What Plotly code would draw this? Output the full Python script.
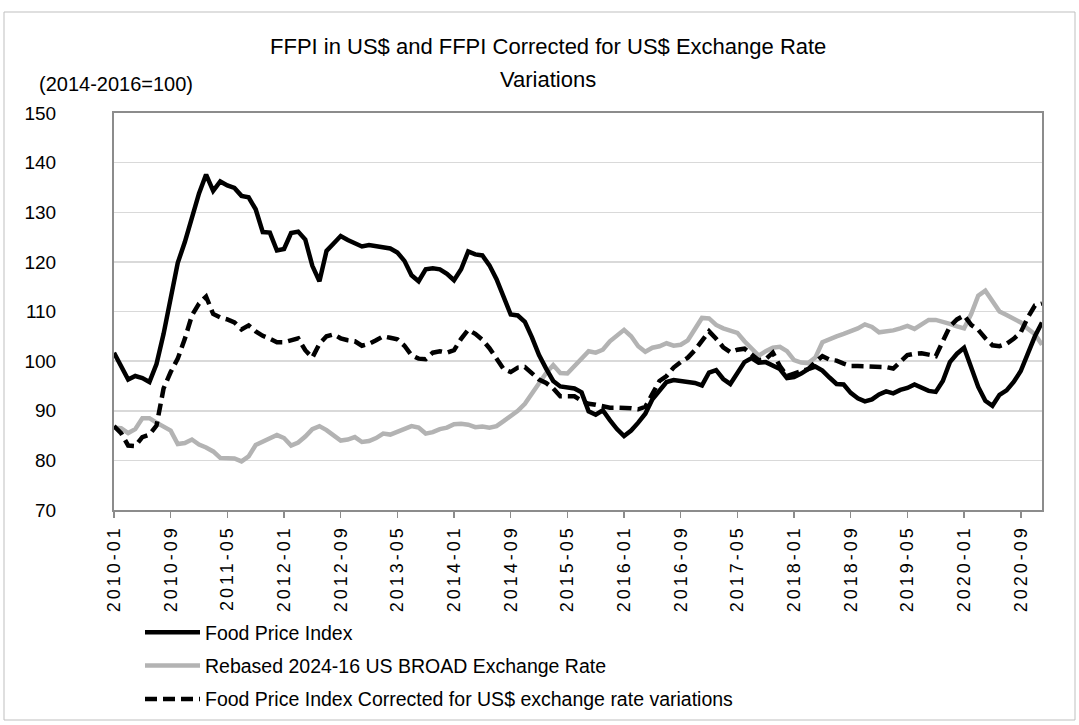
import plotly.graph_objects as go

# ---- data (monthly, 2010-01 .. 2020-12) ----
months = [f"{y}-{m:02d}" for y in range(2010, 2021) for m in range(1, 13)]

food_price_index = [
    101.7, 99.0, 96.3, 97.0, 96.6, 95.8, 99.4, 105.5, 112.5, 119.8, 124.0, 129.3,
    133.8, 137.6, 134.3, 136.2, 135.4, 134.9, 133.3, 133.0, 130.6, 126.0, 125.9, 122.3,
    122.6, 125.8, 126.1, 124.5, 119.2, 116.1, 122.2, 123.7, 125.2, 124.4, 123.8, 123.1,
    123.4, 123.2, 123.0, 122.7, 121.9, 120.2, 117.3, 116.1, 118.5, 118.7, 118.5, 117.6,
    116.3, 118.5, 122.1, 121.5, 121.3, 119.3, 116.5, 113.0, 109.4, 109.2, 107.9, 104.8,
    101.2, 98.5, 96.0, 94.9, 94.7, 94.5, 93.7, 89.9, 89.2, 90.1, 88.1, 86.3,
    84.9, 86.0, 87.6, 89.4, 92.3, 93.9, 95.8, 96.2, 96.0, 95.9, 95.6, 95.1,
    97.7, 98.2, 96.4, 95.4, 97.6, 99.8, 100.6, 99.7, 99.8, 99.1, 98.4, 96.6,
    96.8, 97.5, 98.4, 98.9, 98.1, 96.7, 95.4, 95.3, 93.6, 92.5, 91.9, 92.3,
    93.3, 93.9, 93.5, 94.2, 94.6, 95.3, 94.7, 94.0, 93.8, 96.0, 99.8, 101.5,
    102.7, 99.0, 94.8, 92.0, 91.0, 93.2, 94.1, 95.8, 98.0, 101.5, 105.0, 107.8,
]

exchange_rate_rebased = [
    86.6, 86.5, 85.5, 86.3, 88.5, 88.5, 87.6, 86.9, 86.0, 83.3, 83.5, 84.2,
    83.2, 82.6, 81.8, 80.5, 80.5, 80.4, 79.8, 80.8, 83.1, 83.8, 84.5, 85.1,
    84.5, 83.0, 83.6, 84.8, 86.3, 86.9, 86.1, 85.0, 84.0, 84.2, 84.7, 83.7,
    83.9, 84.5, 85.4, 85.2, 85.8, 86.5, 86.9, 86.6, 85.4, 85.7, 86.3, 86.6,
    87.3, 87.4, 87.2, 86.7, 86.8, 86.6, 86.9, 87.9, 88.9, 90.0, 91.4, 93.4,
    95.6, 97.6, 99.2, 97.6, 97.5, 99.0, 100.8, 102.0, 101.7, 102.3, 104.0, 105.3,
    106.3, 105.0, 103.0, 101.9, 102.7, 103.0, 103.6, 103.1, 103.3, 104.2, 106.3, 108.7,
    108.6, 107.3, 106.6, 106.1, 105.7, 104.0, 102.5, 101.1, 102.0, 102.7, 102.9, 102.0,
    100.2, 99.7, 99.6, 100.7, 103.8, 104.5, 105.0, 105.5, 106.0, 106.6, 107.4, 106.9,
    105.8, 105.9, 106.2, 106.6, 107.1, 106.5, 107.4, 108.3, 108.3, 108.0, 107.5, 107.0,
    106.6, 109.5, 113.2, 114.2, 112.0, 110.0, 109.3, 108.6, 107.8, 106.5, 105.4, 103.3,
]

fpi_corrected = [
    86.9, 85.5, 83.0, 82.9, 84.7, 85.2, 87.0, 94.5, 97.8, 100.5, 104.5, 109.2,
    111.6, 113.0, 109.5, 108.8, 108.4, 107.8, 106.4, 107.2, 106.0, 105.1, 104.5, 103.8,
    103.8, 104.2, 104.6, 102.2, 100.7, 103.5, 105.0, 105.4, 104.6, 104.2, 104.0, 103.1,
    103.5, 104.2, 105.0, 104.7, 104.4, 103.1, 101.2, 100.5, 100.4, 101.7, 102.0, 101.7,
    102.2, 104.5, 106.3, 105.5, 104.3, 102.6, 100.5, 98.4, 97.8, 98.7, 98.8, 97.5,
    96.3, 95.6, 94.5, 92.9, 92.9, 92.9, 92.0, 91.4, 91.2, 90.9, 90.6, 90.6,
    90.6, 90.5, 90.3, 90.8, 93.4, 96.0, 97.0, 98.7, 99.8, 100.7, 102.2, 104.0,
    106.0, 104.5, 102.8, 101.8, 102.3, 102.5, 101.3, 100.2, 100.4, 101.7, 99.0, 97.0,
    97.5, 98.0, 98.4, 99.8, 101.0, 100.3, 100.1, 99.5, 99.0, 99.0, 99.0, 98.9,
    98.9, 98.8, 98.5, 100.0, 101.2, 101.5, 101.6, 101.3, 101.0, 104.0, 107.0, 108.4,
    109.2, 107.3, 106.3, 104.6, 103.2, 103.0, 103.5, 104.5, 105.8, 108.8, 111.2, 111.6,
]

tick_labels = ["2010-01", "2010-09", "2011-05", "2012-01", "2012-09", "2013-05",
               "2014-01", "2014-09", "2015-05", "2016-01", "2016-09", "2017-05",
               "2018-01", "2018-09", "2019-05", "2020-01", "2020-09"]

series_names = ["Food Price Index",
                "Rebased 2024-16 US BROAD Exchange Rate",
                "Food Price Index Corrected for US$ exchange rate variations"]

title_lines = ["FFPI in US$ and FFPI Corrected for US$ Exchange Rate", "Variations"]
unit_label = "(2014-2016=100)"

FONT = "Liberation Sans, Arial, sans-serif"

fig = go.Figure()
fig.add_trace(go.Scatter(x=months, y=exchange_rate_rebased, mode="lines",
                         name=series_names[1], legendgroup="b", legendrank=2,
                         line=dict(color="#b3b3b3", width=4.5)))
fig.add_trace(go.Scatter(x=months, y=food_price_index, mode="lines",
                         name=series_names[0], legendgroup="a", legendrank=1,
                         line=dict(color="#000000", width=4.5)))
fig.add_trace(go.Scatter(x=months, y=fpi_corrected, mode="lines",
                         name=series_names[2], legendgroup="c", legendrank=3,
                         line=dict(color="#000000", width=4.5, dash="12px,6px")))

# plot area geometry in pixels
W, H = 1079, 725
L, R, T, B = 114, 1042, 113, 510
pw, ph = R - L, B - T

def px(x):
    return (x - L) / pw

def py(y):
    return (B - y) / ph

fig.update_layout(
    width=W, height=H,
    margin=dict(l=L, r=W - R, t=T, b=H - B, autoexpand=False),
    paper_bgcolor="white", plot_bgcolor="white",
    font=dict(family=FONT, color="#000000"),
    showlegend=True,
    legend=dict(x=px(140), y=py(613), xanchor="left", yanchor="top",
                orientation="v", traceorder="grouped", tracegroupgap=5,
                itemwidth=55, font=dict(size=19.5, family=FONT),
                bgcolor="rgba(0,0,0,0)"),
    xaxis=dict(type="category", range=[0, len(months) - 1],
               tickmode="array", tickvals=tick_labels, ticktext=tick_labels,
               tickangle=-90, tickfont=dict(size=18, family=FONT),
               ticks="outside", ticklen=6, tickcolor="#8c8c8c", tickwidth=1.5,
               showgrid=False, showline=True, linecolor="#8c8c8c", linewidth=2,
               mirror=True, zeroline=False, automargin=False),
    yaxis=dict(range=[70, 150], dtick=10, tick0=70,
               tickfont=dict(size=19, family=FONT),
               showgrid=True, gridcolor="#d9d9d9", gridwidth=1.5,
               showline=True, linecolor="#8c8c8c", linewidth=2, mirror=True,
               zeroline=False, ticks="", ticklabelstandoff=52, automargin=False),
    annotations=[
        dict(text=title_lines[0], x=px(548), y=py(46), xref="paper", yref="paper",
             xanchor="center", yanchor="middle", showarrow=False,
             font=dict(size=22, family=FONT)),
        dict(text=title_lines[1], x=px(548), y=py(79), xref="paper", yref="paper",
             xanchor="center", yanchor="middle", showarrow=False,
             font=dict(size=22, family=FONT)),
        dict(text=unit_label, x=px(37), y=py(84), xref="paper", yref="paper",
             xanchor="left", yanchor="middle", showarrow=False,
             font=dict(size=20, family=FONT)),
    ],
    shapes=[
        dict(type="rect", xref="paper", yref="paper",
             x0=px(4), x1=px(1075), y0=py(720), y1=py(12),
             line=dict(color="#bfbfbf", width=1), layer="below"),
    ],
)

post = """
document.body.style.margin = '0';
document.body.style.padding = '0';
var s = document.createElement('style');
s.innerHTML = 'body{margin:0;padding:0;} .xtick text { letter-spacing: 3px; }';
document.head.appendChild(s);
"""

fig.write_html("out.html", post_script=post,
               config={"displayModeBar": False, "staticPlot": True})
